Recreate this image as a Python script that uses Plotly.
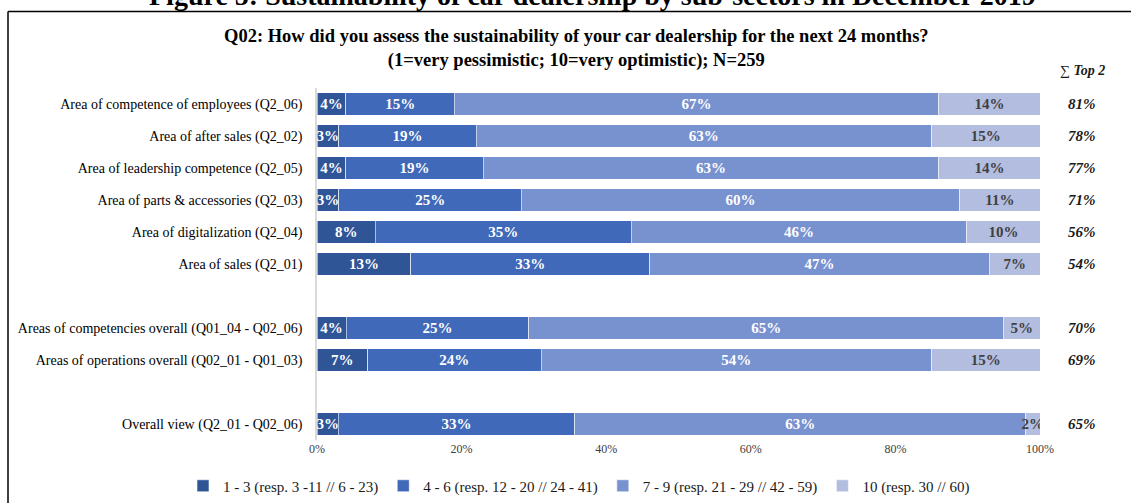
import plotly.graph_objects as go

# Survey rows (top to bottom); blank strings are spacer rows between the groups
categories = [
    "Area of competence of employees (Q2_06)",
    "Area of after sales (Q2_02)",
    "Area of leadership competence (Q2_05)",
    "Area of parts & accessories (Q2_03)",
    "Area of digitalization (Q2_04)",
    "Area of sales (Q2_01)",
    " ",
    "Areas of competencies overall (Q01_04 - Q02_06)",
    "Areas of operations overall (Q02_01 - Q01_03)",
    "  ",
    "Overall view (Q2_01 - Q02_06)",
]

# Share of answers per rating band (percent)
band_1_3 = [4, 3, 4, 3, 8, 13, None, 4, 7, None, 3]
band_4_6 = [15, 19, 19, 25, 35, 33, None, 25, 24, None, 33]
band_7_9 = [67, 63, 63, 60, 46, 47, None, 65, 54, None, 63]
band_10 = [14, 15, 14, 11, 10, 7, None, 5, 15, None, 2]

series_names = [
    "1 - 3 (resp. 3 -11 // 6 - 23)",
    "4 - 6 (resp. 12 - 20 // 24 - 41)",
    "7 - 9 (resp. 21 - 29 // 42 - 59)",
    "10 (resp. 30 // 60)",
]

x_tick_values = [0, 20, 40, 60, 80, 100]
x_tick_labels = ["0%", "20%", "40%", "60%", "80%", "100%"]

colors = ["#2F5597", "#4069B9", "#7891CF", "#B2BDE0"]
text_colors = ["white", "white", "white", "#404040"]

W, H = 1131, 503
ML, MR, MT, MB = 317, 91, 88, 63
PW, PH = W - ML - MR, H - MT - MB


def px_x(px):
    return (px - ML) / PW


def px_y(py):
    return (H - MB - py) / PH


FONT = "Liberation Serif"

fig = go.Figure()
for name, vals, col, tcol in zip(series_names, [band_1_3, band_4_6, band_7_9, band_10], colors, text_colors):
    fig.add_trace(go.Bar(
        y=categories,
        x=vals,
        name=name,
        orientation="h",
        marker=dict(color=col, line=dict(color="rgba(255,255,255,0.7)", width=0.8)),
        text=[f"{v}%" if v is not None else "" for v in vals],
        textposition="inside",
        insidetextanchor="middle",
        textangle=0,
        constraintext="none",
        textfont=dict(family=FONT, size=15, color=tcol, weight="bold"),
        hoverinfo="skip",
    ))

# Top-2 sums (7-9 plus 10) at the right of each bar
for cat, a, b in zip(categories, band_7_9, band_10):
    if a is None:
        continue
    fig.add_annotation(
        x=px_x(1082), xref="paper", y=cat, yref="y",
        xanchor="center", yanchor="middle",
        text=f"<b><i>{a + b}%</i></b>", showarrow=False,
        font=dict(family=FONT, size=15, color="#1a1a1a"),
    )

fig.add_annotation(
    x=px_x(1082), xref="paper", y=px_y(71), yref="paper",
    xanchor="center", yanchor="middle",
    text="∑ <b><i>Top 2</i></b>", showarrow=False,
    font=dict(family=FONT, size=14, color="#1a1a1a"),
)

# Chart heading (two lines)
fig.add_annotation(
    x=px_x(576), xref="paper", y=px_y(48), yref="paper",
    xanchor="center", yanchor="middle",
    text="<b>Q02: How did you assess the sustainability of your car dealership for the next 24 months?<br>"
         "(1=very pessimistic; 10=very optimistic); N=259</b>",
    showarrow=False, align="center",
    font=dict(family=FONT, size=18.5, color="black"),
)

# Figure caption above the frame
fig.add_annotation(
    x=px_x(592), xref="paper", y=px_y(-5), yref="paper",
    xanchor="center", yanchor="middle",
    text="<b>Figure 5: Sustainability of car dealership by sub-sectors in December 2019</b>",
    showarrow=False,
    font=dict(family=FONT, size=28, color="black"),
)

# Frame lines (top and left)
fig.add_shape(type="line", xref="paper", yref="paper",
              x0=px_x(8), x1=px_x(1135), y0=px_y(11.5), y1=px_y(11.5),
              line=dict(color="black", width=1.5))
fig.add_shape(type="line", xref="paper", yref="paper",
              x0=px_x(8), x1=px_x(8), y0=px_y(11.5), y1=px_y(510),
              line=dict(color="black", width=1.5))

fig.update_layout(
    width=W, height=H,
    margin=dict(l=ML, r=MR, t=MT, b=MB, autoexpand=False),
    barmode="stack",
    barnorm="percent",
    bargap=0.31,
    plot_bgcolor="white",
    paper_bgcolor="white",
    font=dict(family=FONT, size=14, color="black"),
    uniformtext=dict(minsize=14, mode="show"),
    showlegend=True,
    legend=dict(
        orientation="h", xref="paper", x=px_x(183), xanchor="left",
        yref="paper", y=px_y(486), yanchor="middle",
        font=dict(family=FONT, size=15, color="#1a1a1a"),
        itemwidth=30, traceorder="normal",
    ),
    xaxis=dict(
        range=[0, 100], tickvals=x_tick_values, ticktext=x_tick_labels,
        showgrid=False, zeroline=False, showline=False, ticks="",
        tickfont=dict(family=FONT, size=12, color="#404040"),
        fixedrange=True,
    ),
    yaxis=dict(
        categoryorder="array", categoryarray=categories,
        autorange="reversed",
        showgrid=False, zeroline=False,
        showline=True, linecolor="#D9D9D9", linewidth=1.5,
        ticks="outside", ticklen=10, tickcolor="rgba(0,0,0,0)",
        tickfont=dict(family=FONT, size=14, color="black"),
        fixedrange=True,
    ),
)

fig.write_html("out.html")
